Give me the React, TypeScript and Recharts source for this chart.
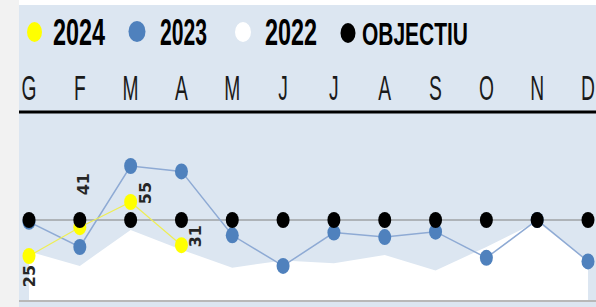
import React from 'react';
import { ComposedChart, Area, Line, XAxis, YAxis, ReferenceLine, LabelList } from 'recharts';

const months = ['G', 'F', 'M', 'A', 'M', 'J', 'J', 'A', 'S', 'O', 'N', 'D'];
const s2024: (number | null)[] = [25, 41, 55, 31, null, null, null, null, null, null, null, null];
const s2023 = [44, 30, 75, 72, 36.5, 19.5, 38, 35.5, 38.5, 24, 45, 22];
const s2022 = [27.5, 19.5, 39.5, 28.5, 18.5, 22.5, 21, 25.5, 17, 30, 44, 22];
const objectiu = [45, 45, 45, 45, 45, 45, 45, 45, 45, 45, 45, 45];

const data = months.map((m, i) => ({
  i,
  m,
  y2024: s2024[i],
  y2023: s2023[i],
  y2022: s2022[i],
  obj: objectiu[i],
}));
const tickIdx = months.map((_, i) => i);

const BG = '#dce6f1';
const BLUE = '#4f81bd';
const YELLOW = '#ffff00';

const labelOffsets = [
  { dx: 0, dy: 20 },
  { dx: 4, dy: -43 },
  { dx: 15, dy: -9 },
  { dx: 14, dy: -9 },
];

const makeDot = (fill: string) => (props: any) => {
  const { cx, cy, index, value } = props;
  const v = Array.isArray(value) ? value[1] : value;
  if (cx == null || cy == null || v == null || isNaN(cy)) {
    return <g key={`e-${fill}-${index}`} />;
  }
  return <ellipse key={`d-${fill}-${index}`} cx={cx} cy={cy} rx={6.5} ry={8} fill={fill} />;
};

const renderLabel = (props: any) => {
  const { x, y, value, index } = props;
  if (value == null || x == null || y == null) return null;
  const off = labelOffsets[index] || { dx: 0, dy: -20 };
  const cx = Number(x) + off.dx;
  const cy = Number(y) + off.dy;
  return (
    <text
      key={`l-${index}`}
      x={cx}
      y={cy}
      transform={`rotate(-90, ${cx}, ${cy})`}
      textAnchor="middle"
      dominantBaseline="central"
      fontFamily="'DejaVu Sans', sans-serif"
      fontWeight="bold"
      fontSize={16}
      fill="#262626"
    >
      {value}
    </text>
  );
};

const MonthTick = (props: any) => {
  const { x, payload } = props;
  return (
    <g transform={`translate(${x}, 95) scale(0.55, 1)`}>
      <text
        x={0}
        y={0}
        textAnchor="middle"
        fontFamily="'Liberation Sans Narrow', 'Liberation Sans', Arial, sans-serif"
        fontSize={35}
        fill="#1a1a1a"
      >
        {months[payload.value]}
      </text>
    </g>
  );
};

const legendFont = "'Liberation Sans Narrow', 'Liberation Sans', Arial, sans-serif";

const LegendBox = () => (
  <svg
    width={596}
    height={60}
    style={{ position: 'absolute', left: 0, top: 0, pointerEvents: 'none' }}
  >
    <ellipse cx={34.5} cy={32} rx={7.5} ry={10} fill={YELLOW} />
    <text x={53} y={45} textLength={52} lengthAdjust="spacingAndGlyphs" fontFamily={legendFont} fontWeight="bold" fontSize={37} fill="#000">2024</text>
    <ellipse cx={137} cy={31.5} rx={8.5} ry={10.5} fill={BLUE} />
    <text x={160} y={45} textLength={47} lengthAdjust="spacingAndGlyphs" fontFamily={legendFont} fontWeight="bold" fontSize={37} fill="#000">2023</text>
    <ellipse cx={243} cy={32} rx={8} ry={10} fill="#ffffff" />
    <text x={265} y={45} textLength={52} lengthAdjust="spacingAndGlyphs" fontFamily={legendFont} fontWeight="bold" fontSize={37} fill="#000">2022</text>
    <ellipse cx={348} cy={33} rx={7.5} ry={10} fill="#000" />
    <text x={362} y={45} textLength={106} lengthAdjust="spacingAndGlyphs" fontFamily={legendFont} fontWeight="bold" fontSize={31} fill="#000">OBJECTIU</text>
  </svg>
);

export default function App() {
  return (
    <div style={{ position: 'absolute', left: 0, top: 0, width: 596, height: 307, background: '#f2f2f2', overflow: 'hidden' }}>
      <div style={{ position: 'absolute', left: 19, top: 0, width: 577, height: 5, background: '#ffffff' }} />
      <div style={{ position: 'absolute', left: 19, top: 5, width: 577, height: 302, background: BG }}>
        <ComposedChart
          width={577}
          height={302}
          data={data}
          margin={{ top: 77, right: 0, bottom: 6, left: 0 }}
        >
          <XAxis
            dataKey="i"
            type="number"
            domain={[0, 11]}
            ticks={tickIdx}
            orientation="top"
            padding={{ left: 10, right: 8 }}
            height={30}
            axisLine={{ stroke: '#000', strokeWidth: 3 }}
            tickLine={false}
            interval={0}
            tick={<MonthTick />}
          />
          <YAxis hide domain={[0, 105]} type="number" />
          <Area
            type="linear"
            dataKey="y2022"
            fill="#ffffff"
            fillOpacity={1}
            stroke="none"
            isAnimationActive={false}
            dot={false}
            activeDot={false}
          />
          <ReferenceLine y={0} stroke="#b8b8b8" strokeWidth={2} />
          <Line
            type="linear"
            dataKey="obj"
            stroke="#808080"
            strokeWidth={1.2}
            dot={false}
            activeDot={false}
            isAnimationActive={false}
          />
          <Line
            type="linear"
            dataKey="y2023"
            stroke="#8eaad4"
            strokeWidth={1.5}
            dot={makeDot(BLUE)}
            activeDot={false}
            isAnimationActive={false}
          />
          <Line
            type="linear"
            dataKey="y2024"
            stroke="#eeee55"
            strokeWidth={1.2}
            dot={makeDot(YELLOW)}
            activeDot={false}
            isAnimationActive={false}
          >
            <LabelList dataKey="y2024" content={renderLabel} />
          </Line>
          <Line
            type="linear"
            dataKey="obj"
            stroke="none"
            dot={makeDot('#000000')}
            activeDot={false}
            isAnimationActive={false}
          />
        </ComposedChart>
      </div>
      <LegendBox />
    </div>
  );
}
